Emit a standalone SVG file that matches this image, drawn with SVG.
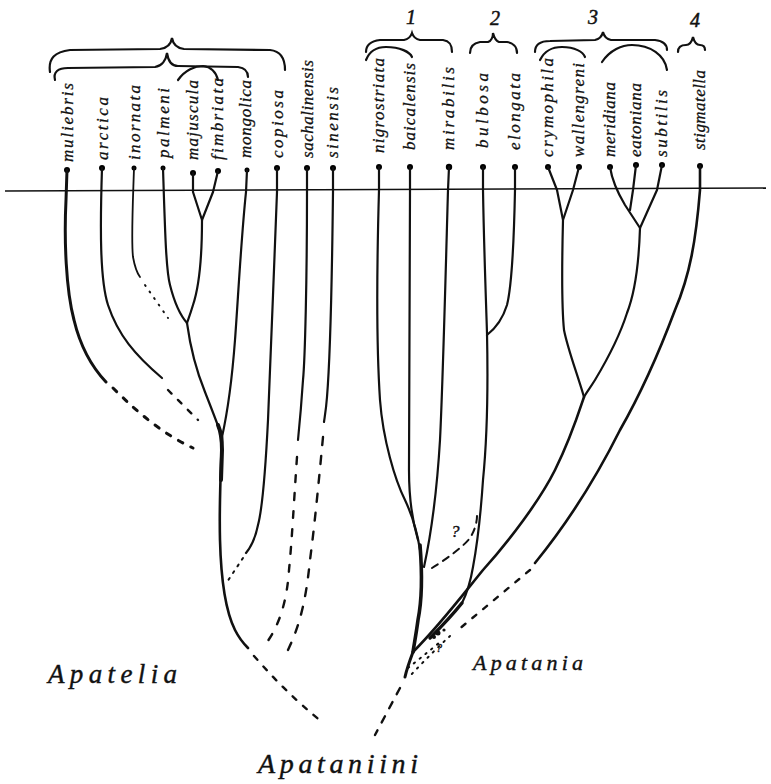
<svg xmlns="http://www.w3.org/2000/svg" width="771" height="784" viewBox="0 0 771 784">
<style>
.lbl{font-family:"Liberation Serif","DejaVu Serif",serif;font-style:italic;font-size:17px;fill:#111;stroke:#111;stroke-width:0.3}
.big{font-family:"Liberation Serif","DejaVu Serif",serif;font-style:italic;fill:#111;stroke:#111;stroke-width:0.4}
.num{font-family:"Liberation Serif","DejaVu Serif",serif;font-style:italic;font-size:20px;fill:#111;stroke:#111;stroke-width:0.5}
.ln{fill:none;stroke:#111;stroke-width:2.2;stroke-linecap:round;stroke-linejoin:round}
.th{stroke-width:3}
.tn{stroke-width:1.8}
.dash{fill:none;stroke:#111;stroke-width:2.4;stroke-dasharray:5 9;stroke-linecap:round}
.dot{fill:none;stroke:#111;stroke-width:2;stroke-dasharray:1 7;stroke-linecap:round}
.br{fill:none;stroke:#111;stroke-width:2.2;stroke-linecap:round}
</style>
<rect width="771" height="784" fill="#fff"/>
<line x1="5" y1="191" x2="766" y2="188" stroke="#111" stroke-width="1.5"/>
<g id="braces">
<path class="br" d="M50,72 C48,58 55,52 70,50 L160,49 C168,48 171,44 172,38 C173,44 176,48 184,49 L270,50 C280,51 285,58 285,70"/>
<path class="br" d="M55,80 C53,72 58,68 68,68 L155,67 C162,66 166,60 167,53 C168,60 171,66 178,66 L238,67 C246,68 248,72 248,77"/>
<path class="br" d="M178,80 C185,70 195,66 203,66 C211,67 216,72 218,80"/>
<path class="br" d="M366,52 C366,44 372,41 380,40 L404,40 C409,39 411,36 412,33 C413,36 415,39 420,40 L443,40 C450,41 452,45 452,52"/>
<path class="br" d="M366,60 C370,50 378,47 386,47 C400,47 410,52 412,57"/>
<path class="br" d="M470,53 C470,46 474,43 480,42 L488,42 C491,41 493,37 493,33 C494,37 496,41 499,42 L507,42 C513,43 517,47 517,53"/>
<path class="br" d="M535,52 C535,45 540,41 550,41 L595,40 C600,39 602,36 603,32 C604,36 606,39 611,40 L655,40 C663,41 667,45 667,50"/>
<path class="br" d="M540,60 C545,50 552,47 562,47 C575,47 583,52 585,57"/>
<path class="br" d="M602,62 C610,50 622,45 632,45 C650,45 665,55 667,70"/>
<path class="br" d="M678,52 C678,47 681,45 686,45 C690,45 692,41 693,37 C694,41 696,45 700,45 C704,45 705,48 705,50"/>
<text class="num" x="406" y="24">1</text>
<text class="num" x="490" y="25">2</text>
<text class="num" x="588" y="24">3</text>
<text class="num" x="690" y="27">4</text>
</g>
<g id="n-muliebris"><circle cx="67" cy="170" r="3"/><text class="lbl" transform="translate(73,162) rotate(-90)" textLength="79">muliebris</text></g>
<g id="n-arctica"><circle cx="102" cy="168" r="3"/><text class="lbl" transform="translate(108,160) rotate(-90)" textLength="63">arctica</text></g>
<g id="n-inornata"><circle cx="134" cy="168" r="2.5"/><text class="lbl" transform="translate(140,160) rotate(-90)" textLength="75">inornata</text></g>
<g id="n-palmeni"><circle cx="163" cy="168" r="2.5"/><text class="lbl" transform="translate(169,158) rotate(-90)" textLength="70">palmeni</text></g>
<g id="n-majuscula"><circle cx="193" cy="173" r="3"/><text class="lbl" transform="translate(198,160) rotate(-90)" textLength="80">majuscula</text></g>
<g id="n-fimbriata"><circle cx="218" cy="171" r="3"/><text class="lbl" transform="translate(223,160) rotate(-90)" textLength="82">fimbriata</text></g>
<g id="n-mongolica"><circle cx="247" cy="170" r="2.5"/><text class="lbl" transform="translate(251,158) rotate(-90)" textLength="78">mongolica</text></g>
<g id="n-copiosa"><circle cx="277" cy="168" r="3"/><text class="lbl" transform="translate(283,158) rotate(-90)" textLength="68">copiosa</text></g>
<g id="n-sachalinensis"><circle cx="307" cy="168" r="3"/><text class="lbl" transform="translate(313,158) rotate(-90)" textLength="98">sachalinensis</text></g>
<g id="n-sinensis"><circle cx="333" cy="168" r="3"/><text class="lbl" transform="translate(338,158) rotate(-90)" textLength="71">sinensis</text></g>
<g id="n-nigrostriata"><circle cx="379" cy="167" r="3"/><text class="lbl" transform="translate(384,153) rotate(-90)" textLength="95">nigrostriata</text></g>
<g id="n-baicalensis"><circle cx="410" cy="167" r="3"/><text class="lbl" transform="translate(415,150) rotate(-90)" textLength="87">baicalensis</text></g>
<g id="n-mirabilis"><circle cx="449" cy="167" r="3.2"/><text class="lbl" transform="translate(454,150) rotate(-90)" textLength="83">mirabilis</text></g>
<g id="n-bulbosa"><circle cx="483" cy="167" r="3"/><text class="lbl" transform="translate(488,148) rotate(-90)" textLength="75">bulbosa</text></g>
<g id="n-elongata"><circle cx="515" cy="167" r="3"/><text class="lbl" transform="translate(520,150) rotate(-90)" textLength="77">elongata</text></g>
<g id="n-crymophila"><circle cx="548" cy="167" r="3"/><text class="lbl" transform="translate(553,157) rotate(-90)" textLength="99">crymophila</text></g>
<g id="n-wallengreni"><circle cx="579" cy="167" r="3"/><text class="lbl" transform="translate(584,157) rotate(-90)" textLength="94">wallengreni</text></g>
<g id="n-meridiana"><circle cx="610" cy="167" r="3"/><text class="lbl" transform="translate(615,157) rotate(-90)" textLength="75">meridiana</text></g>
<g id="n-eatoniana"><circle cx="636" cy="165" r="3"/><text class="lbl" transform="translate(641,157) rotate(-90)" textLength="74">eatoniana</text></g>
<g id="n-subtilis"><circle cx="662" cy="165" r="3"/><text class="lbl" transform="translate(667,157) rotate(-90)" textLength="67">subtilis</text></g>
<g id="n-stigmatella"><circle cx="700" cy="166" r="3"/><text class="lbl" transform="translate(705,150) rotate(-90)" textLength="80">stigmatella</text></g>
<g id="connectors">
<path class="ln th" d="M67,170 L66,200 C64,240 66,290 74,320 C80,345 90,365 106,382"/>
<path class="dash" d="M113,388 C140,415 165,435 193,448" style="stroke-width:3"/>
<path class="ln" d="M102,168 C100,230 100,280 108,305 C118,335 135,355 162,378"/>
<path class="dash" d="M168,390 L198,420"/>
<path class="ln tn" d="M134,168 C133,200 131,240 133,257 C135,268 137,273 140,277"/>
<path class="dot" d="M145,285 L168,318"/>
<path class="ln" d="M163,168 C165,230 166,270 170,285 C175,305 180,315 187,323"/>
<path class="ln" d="M193,173 L193,192 L202,220"/>
<path class="ln" d="M218,171 L213,192 L202,220"/>
<path class="ln" d="M202,220 C202,260 198,290 193,305 C190,315 188,320 187,323"/>
<path class="ln" d="M187,323 C190,345 196,370 205,392 C212,410 218,425 222,437"/>
<path class="ln" d="M247,170 L246,192 C241,240 238,300 235,340 C232,380 228,410 222,437"/>
<path class="ln" d="M222,437 C221,470 219,500 220,540 C221,580 225,610 235,630 C240,640 245,645 248,648" style="stroke-width:2.6"/>
<path class="ln" d="M218,425 C221,432 222,440 222,450 L221,480" style="stroke-width:4"/>
<path class="dash" d="M254,656 C275,680 295,700 322,722"/>
<path class="ln" d="M277,168 L277,192 C274,260 271,360 268,420 C265,480 262,510 258,525 C255,540 250,548 246,553"/>
<path class="dot" d="M243,558 L227,582" style="stroke-dasharray:2 6"/>
<path class="ln" d="M307,168 L307,192 C307,280 305,360 303,380 C301,410 299,430 298,440"/>
<path class="dash" d="M297,457 C294,500 292,540 289,570 C287,600 280,625 265,645" style="stroke-dasharray:7 11"/>
<path class="ln" d="M333,168 L333,192 C332,280 330,360 327,397 C326,410 325,415 324,422"/>
<path class="dash" d="M323,437 C318,490 314,530 310,560 C306,600 300,625 288,650" style="stroke-dasharray:8 11"/>
<path class="ln" d="M379,167 L379,190 C377,260 376,340 380,400 C383,440 395,480 405,500 C412,515 417,530 420,550"/>
<path class="ln" d="M410,167 L410,190 C410,300 410,400 409,470 C409,500 412,520 418,540"/>
<path class="ln" d="M420,545 C422,570 422,600 418,620 C416,635 414,645 413,652" style="stroke-width:3.6"/>
<path class="ln" d="M449,167 L448,190 C446,260 443,380 440,440 C437,490 432,530 424,567"/>
<path class="ln" d="M483,167 L483,190 C484,250 486,300 487,333 C488,380 487,440 483,480 C481,510 478,540 473,567 C470,585 466,595 462,603"/>
<path class="ln" d="M515,167 L515,190 C514,240 512,285 507,305 C503,318 496,328 487,335"/>
<path class="ln" d="M548,167 L557,190 L563,220"/>
<path class="ln" d="M579,167 L573,190 L563,220"/>
<path class="ln" d="M563,220 C562,260 561,300 564,330 C568,350 576,370 584,397"/>
<path class="ln" d="M610,167 C612,180 616,190 625,205 L640,228"/>
<path class="ln" d="M636,165 L633,190 L630,210"/>
<path class="ln" d="M662,165 L657,190 L640,228"/>
<path class="ln" d="M640,228 C639,260 636,290 627,313 C620,335 610,355 595,380 C590,388 586,393 584,397"/>
<path class="ln" d="M584,397 C578,415 570,440 555,470 C540,500 510,540 483,570 C465,592 440,625 413,652" style="stroke-width:2.6"/>
<path class="ln" d="M462,603 C450,618 440,628 430,638" style="stroke-width:3.4"/>
<path class="ln" d="M700,166 L700,190 C696,240 690,275 675,310 C660,350 640,395 620,430 C600,470 570,520 535,563" style="stroke-width:2.6"/>
<path class="dash" d="M530,570 L458,630"/>
<path class="dot" d="M450,636 C440,645 425,660 408,678" style="stroke-dasharray:1.5 6"/>
<path class="dot" d="M408,668 C418,660 428,652 440,642" style="stroke-dasharray:1.5 6"/>
<path class="ln" d="M413,652 C410,660 407,668 405,677" style="stroke-width:3"/>
<path class="dash" d="M400,688 L375,735" style="stroke-dasharray:7 9"/>
<path class="dash" d="M432,568 C445,560 462,548 470,538 C475,530 477,522 477,516" style="stroke-dasharray:7 6;stroke-width:2"/>
<circle cx="438" cy="633" r="2.5" fill="#111"/>
<circle cx="434" cy="637" r="2" fill="#111"/>
<circle cx="444" cy="630" r="1.6" fill="#111"/>
</g>
<text class="big" x="451" y="537" font-size="17">?</text>
<text class="big" x="436" y="652" font-size="12">?</text>
<text class="big" x="48" y="683" font-size="27" textLength="129">Apatelia</text>
<text class="big" x="473" y="670" font-size="22" textLength="110">Apatania</text>
<text class="big" x="258" y="773" font-size="28" textLength="160">Apataniini</text>
</svg>
